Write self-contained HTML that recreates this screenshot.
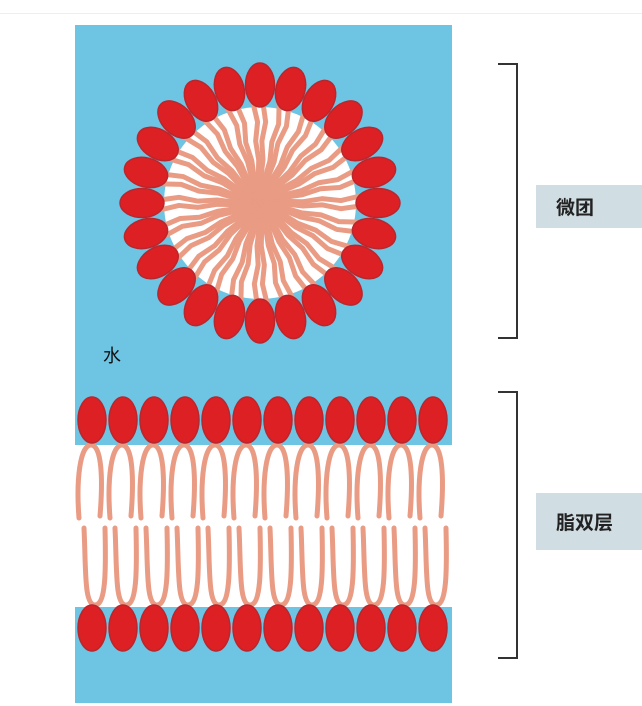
<!DOCTYPE html>
<html><head><meta charset="utf-8">
<style>
html,body{margin:0;padding:0;background:#fff;width:642px;height:706px;overflow:hidden;position:relative;font-family:"Liberation Sans","Noto Sans CJK SC",sans-serif}
.lab{position:absolute;left:536px;width:106px;background:#d0dde2;display:flex;align-items:center;padding-left:20px;box-sizing:border-box;font-weight:bold;font-size:19px;color:#222}
</style></head><body>
<div style="position:absolute;left:0;top:13px;width:642px;height:1px;background:#eee"></div>
<svg id="s" width="642" height="706" style="position:absolute;left:0;top:0">
<rect x="75" y="25" width="377" height="678" fill="#6ec4e3"/>
<circle cx="260" cy="203" r="96" fill="#fff"/>
<rect x="75" y="445" width="377" height="162" fill="#fff"/>
<circle cx="260" cy="203" r="14" fill="#e99b84"/>
<g id="tails" stroke="#e99b84" stroke-width="5" fill="none" stroke-linecap="round" stroke-linejoin="round"></g>
<g id="heads" fill="#dd2024" stroke="#b8272e" stroke-width="1.5"></g>
<text x="103" y="362" font-size="18" fill="#111" font-family="Noto Sans CJK SC, sans-serif">水</text>
<path d="M498 64 H517 V338 H498" stroke="#333" stroke-width="2" fill="none"/>
<path d="M498 392 H517 V658 H498" stroke="#333" stroke-width="2" fill="none"/>
</svg>
<div class="lab" style="top:185px;height:43px">微团</div>
<div class="lab" style="top:493px;height:57px">脂双层</div>
<script>
var NS="http://www.w3.org/2000/svg",H=document.getElementById("heads"),T=document.getElementById("tails");
function el(p,t,a){var e=document.createElementNS(NS,t);for(var k in a)e.setAttribute(k,a[k]);p.appendChild(e);return e;}
var cx=260,cy=203;
for(var i=0;i<24;i++){var a=i/24*2*Math.PI-Math.PI/2,r=118;
 var ux=Math.cos(a),uy=Math.sin(a),px=-uy,py=ux;
 var x=cx+r*ux,y=cy+r*uy,deg=a*180/Math.PI+90;
 for(var j=-1;j<=1;j+=2){var d="";
  for(var s=0;s<=5;s++){var rr=100-s*19,o=j*5*(rr/100)+(s%2?2:-2)*(rr/100);
   d+=(s?" L":"M")+(cx+rr*ux+o*px)+" "+(cy+rr*uy+o*py);}
  el(T,"path",{d:d});}
 el(H,"ellipse",{cx:x,cy:y,rx:14.5,ry:22,transform:"rotate("+deg+" "+x+" "+y+")"});}
for(var i=0;i<12;i++){var x=92+i*31;
 el(H,"ellipse",{cx:x,cy:420,rx:14,ry:23});
 el(H,"ellipse",{cx:x,cy:628,rx:14,ry:23});
 el(T,"path",{d:"M"+(x-13)+" 518 C"+(x-16)+" 480,"+(x-12)+" 445,"+(x-1)+" 445 S"+(x+11)+" 480,"+(x+8)+" 516"});
 el(T,"path",{d:"M"+(x-8)+" 528 C"+(x-6)+" 570,"+(x-8)+" 605,"+(x+3)+" 605 S"+(x+14)+" 570,"+(x+13)+" 528"});}
</script>
</body></html>
